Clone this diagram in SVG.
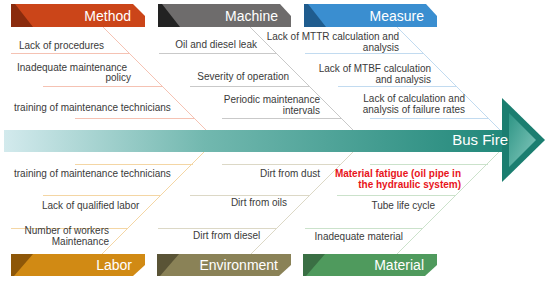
<svg xmlns="http://www.w3.org/2000/svg" width="550" height="282" viewBox="0 0 550 282">
<defs>
<linearGradient id="bar" x1="0" y1="0" x2="1" y2="0">
<stop offset="0" stop-color="#D3EAED"/>
<stop offset="0.4" stop-color="#72B8AF"/>
<stop offset="1" stop-color="#21887A"/>
</linearGradient>
<linearGradient id="head" x1="0" y1="0" x2="1" y2="1">
<stop offset="0" stop-color="#2E9585"/>
<stop offset="1" stop-color="#86C9BE"/>
</linearGradient>
<style>
.t{font-family:"Liberation Sans",Arial,sans-serif;font-size:10px;fill:#3a3a3a}
.e{text-anchor:end}
.h{font-family:"Liberation Sans",Arial,sans-serif;font-size:14px;fill:#ffffff;text-anchor:end}
.red{fill:#E8141B;font-weight:bold}
.bone{stroke-width:1;fill:none}
.m{stroke:#F5C2B3}
.g{stroke:#C9C9C9}
.b{stroke:#C2DBF0}
.l{stroke:#F4D6A4}
.v{stroke:#DCD8C6}
.n{stroke:#CBE2CB}
</style>
</defs>
<rect width="550" height="282" fill="#ffffff"/>

<g id="connectors">
<line class="bone m" x1="103" y1="27" x2="206" y2="130"/>
<line class="bone m" x1="11" y1="53.5" x2="129" y2="53.5"/>
<line class="bone m" x1="43" y1="86.5" x2="162" y2="86.5"/>
<line class="bone m" x1="75" y1="118.5" x2="194" y2="118.5"/>

<line class="bone g" x1="250" y1="27" x2="353" y2="130"/>
<line class="bone g" x1="159" y1="53.5" x2="276" y2="53.5"/>
<line class="bone g" x1="190" y1="86.5" x2="309" y2="86.5"/>
<line class="bone g" x1="222" y1="118.5" x2="341" y2="118.5"/>

<line class="bone b" x1="397" y1="27" x2="500" y2="130"/>
<line class="bone b" x1="305" y1="53.5" x2="423" y2="53.5"/>
<line class="bone b" x1="338" y1="86.5" x2="456" y2="86.5"/>
<line class="bone b" x1="370" y1="118.5" x2="488" y2="118.5"/>

<line class="bone l" x1="102" y1="254" x2="204" y2="152"/>
<line class="bone l" x1="75" y1="164.5" x2="193" y2="164.5"/>
<line class="bone l" x1="43" y1="195.5" x2="161" y2="195.5"/>
<line class="bone l" x1="11" y1="228.5" x2="128" y2="228.5"/>

<line class="bone v" x1="251" y1="254" x2="353" y2="152"/>
<line class="bone v" x1="222" y1="164.5" x2="341" y2="164.5"/>
<line class="bone v" x1="190" y1="195.5" x2="309" y2="195.5"/>
<line class="bone v" x1="158" y1="228.5" x2="277" y2="228.5"/>

<line class="bone n" x1="397" y1="254" x2="499" y2="152"/>
<line class="bone n" x1="370" y1="164.5" x2="488" y2="164.5"/>
<line class="bone n" x1="337" y1="195.5" x2="456" y2="195.5"/>
<line class="bone n" x1="305" y1="228.5" x2="423" y2="228.5"/>
</g>

<g id="spine">
<rect x="4" y="130" width="500" height="22" fill="url(#bar)"/>
<polygon points="502,98 545,140 502,182" fill="#1B7E70"/>
<polygon points="509,113 536,140 509,167" fill="url(#head)"/>
<text class="h" x="508" y="145" style="font-size:15px">Bus Fire</text>
</g>

<g id="method">
<polygon points="11,4 133,4 145,16 145,27 11,27" fill="#CB4519"/>
<polygon points="11,4 15,4 33,27 11,27" fill="#8A2B0D"/>
<text class="h" x="131" y="21">Method</text>
<text class="t" x="19" y="49">Lack of procedures</text>
<text class="t" x="17" y="71">Inadequate maintenance</text>
<text class="t e" x="131" y="81">policy</text>
<text class="t" x="14" y="111">training of maintenance technicians</text>
</g>

<g id="machine">
<polygon points="158,4 280,4 291,16 291,27 158,27" fill="#6E6C6C"/>
<polygon points="158,4 162,4 180,27 158,27" fill="#222222"/>
<text class="h" x="278" y="21">Machine</text>
<text class="t e" x="257" y="48">Oil and diesel leak</text>
<text class="t e" x="289" y="80">Severity of operation</text>
<text class="t e" x="320" y="103">Periodic maintenance</text>
<text class="t e" x="320" y="114">intervals</text>
</g>

<g id="measure">
<polygon points="304,4 426,4 437,16 437,27 304,27" fill="#3A8ED0"/>
<polygon points="304,4 308,4 326,27 304,27" fill="#1F5C8E"/>
<text class="h" x="424" y="21">Measure</text>
<text class="t e" x="399" y="40">Lack of MTTR calculation and</text>
<text class="t e" x="399" y="51">analysis</text>
<text class="t e" x="431" y="72">Lack of MTBF calculation</text>
<text class="t e" x="431" y="83">and analysis</text>
<text class="t e" x="465" y="102">Lack of calculation and</text>
<text class="t e" x="465" y="113">analysis of failure rates</text>
</g>

<g id="labor">
<polygon points="11,254 145,254 145,265 133,276 11,276" fill="#D18A14"/>
<polygon points="11,254 33,254 14,276 11,276" fill="#8E5708"/>
<text class="h" x="132" y="270">Labor</text>
<text class="t" x="14" y="177">training of maintenance technicians</text>
<text class="t" x="42" y="209">Lack of qualified labor</text>
<text class="t e" x="109" y="234">Number of workers</text>
<text class="t e" x="109" y="245">Maintenance</text>
</g>

<g id="environment">
<polygon points="157,254 291,254 291,265 279,276 157,276" fill="#8A8257"/>
<polygon points="157,254 179,254 160,276 157,276" fill="#5A5436"/>
<text class="h" x="278" y="270">Environment</text>
<text class="t e" x="320" y="177">Dirt from dust</text>
<text class="t e" x="287" y="206">Dirt from oils</text>
<text class="t" x="193" y="239">Dirt from diesel</text>
</g>

<g id="material">
<polygon points="303,254 437,254 437,265 425,276 303,276" fill="#4F9A5D"/>
<polygon points="303,254 325,254 306,276 303,276" fill="#3A6F44"/>
<text class="h" x="424" y="270">Material</text>
<text class="t e red" x="461" y="177">Material fatigue (oil pipe in</text>
<text class="t e red" x="461" y="188">the hydraulic system)</text>
<text class="t e" x="435" y="209">Tube life cycle</text>
<text class="t e" x="403" y="240">Inadequate material</text>
</g>
</svg>
